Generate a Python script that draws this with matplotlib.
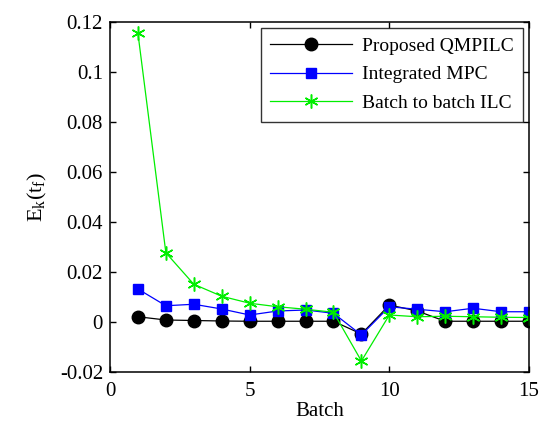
import matplotlib
matplotlib.use("Agg")
import matplotlib.pyplot as plt

plt.rcParams["font.family"] = "Liberation Serif"
plt.rcParams["mathtext.fontset"] = "custom"
plt.rcParams["mathtext.rm"] = "Liberation Serif"

batch = list(range(1, 16))
qmpilc = [0.0021, 0.0008, 0.0006, 0.0004, 0.0003, 0.0003, 0.0003, 0.0003,
          -0.0048, 0.0068, 0.0044, 0.0003, 0.0003, 0.0003, 0.0003]
mpc = [0.0132, 0.0065, 0.0071, 0.0052, 0.0028, 0.0044, 0.0048, 0.0035,
       -0.0052, 0.0061, 0.0051, 0.0041, 0.0055, 0.0041, 0.0041]
ilc = [0.1155, 0.0277, 0.0151, 0.0103, 0.0075, 0.0061, 0.0051, 0.0039,
       -0.0156, 0.0028, 0.0021, 0.0023, 0.0021, 0.0019, 0.0018]

fig = plt.figure(figsize=(5.39, 4.25), dpi=100)
ax = fig.add_axes([110 / 539, 1 - 372 / 425, 419 / 539, 350 / 425])

ax.plot(batch, qmpilc, color="black", lw=0.9, marker="o", markersize=9,
        label="Proposed QMPILC")
ax.plot(batch, mpc, color="blue", lw=0.9, marker="s", markersize=7.5,
        label="Integrated MPC")
# asterisk marker for the ILC curve
ax.plot(batch, ilc, color="#00ee00", lw=0.9, marker=(6, 2, 0), markersize=10,
        markeredgewidth=1.1, label="Batch to batch ILC")

ax.set_xlim(0, 15)
ax.set_ylim(-0.02, 0.12)
ax.set_xticks([0, 5, 10, 15])
ax.set_yticks([-0.02, 0, 0.02, 0.04, 0.06, 0.08, 0.1, 0.12])
ax.set_yticklabels(["-0.02", "0", "0.02", "0.04", "0.06", "0.08", "0.1", "0.12"])
ax.tick_params(direction="in", top=True, right=True, labelsize=15, length=4,
               width=1.0)
ax.tick_params(axis="x", pad=7)
ax.tick_params(axis="y", pad=5)
for s in ax.spines.values():
    s.set_linewidth(1.1)
ax.set_xlabel("Batch", fontsize=15, labelpad=1)
ax.set_ylabel(r"$\mathrm{E_k(t_f)}$", fontsize=16, labelpad=8)

leg = ax.legend(loc="upper right", fontsize=14, fancybox=False,
                edgecolor="black", handlelength=4.2, handletextpad=0.5,
                borderaxespad=0.3, labelspacing=0.55, borderpad=0.5)
leg.get_frame().set_linewidth(1.0)

fig.savefig("out.png", dpi=100)
